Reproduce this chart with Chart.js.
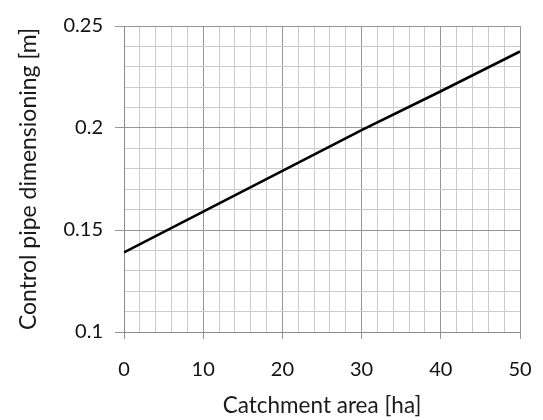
<!DOCTYPE html>
<html lang="en">
<head>
  <meta charset="UTF-8" />
  <title>Control pipe dimensioning</title>
  <script src="https://cdn.jsdelivr.net/npm/chart.js"></script>
  <style>
    body { margin: 0; padding: 0; background: #fff; }
    #wrap { width: 543px; height: 420px; position: relative; }
  </style>
</head>
<body>
  <div id="wrap"><canvas id="chart"></canvas></div>

  <script>
    // values
    const areaHa = [0, 10, 20, 30, 40, 50];
    const pipeDim = [0.139, 0.159, 0.179, 0.199, 0.218, 0.2375];

    const xMin = 0, xMax = 50, xStep = 2, xMajor = 10;
    const yMin = 0.1, yMax = 0.25, yStep = 0.01;

    const minorGrid = '#cbcbcb';
    const majorGrid = '#969696';
    const fontFamily = 'Lato, "Open Sans", sans-serif';

    const isMajorX = v => Math.round(v) % xMajor === 0;
    const isMajorY = v => Math.round(v * 100) % 5 === 0;

    const points = areaHa.map((a, i) => ({ x: a, y: pipeDim[i] }));

    new Chart(document.getElementById('chart'), {
      type: 'line',
      data: {
        datasets: [{
          data: points,
          borderColor: '#000',
          borderWidth: 2.6,
          pointRadius: 0,
          tension: 0
        }]
      },
      options: {
        responsive: true,
        maintainAspectRatio: false,
        animation: false,
        layout: { padding: { top: 26, right: 23, left: 0, bottom: 0 } },
        plugins: { legend: { display: false }, tooltip: { enabled: false } },
        scales: {
          x: {
            type: 'linear',
            min: xMin, max: xMax,
            afterFit: s => { s.height = 88; s.paddingLeft = 0; s.paddingRight = 0; },
            border: { color: '#8a8a8a', width: 1 },
            grid: {
              color: c => isMajorX(c.tick.value) ? majorGrid : minorGrid,
              tickColor: c => isMajorX(c.tick.value) ? majorGrid : 'transparent',
              tickLength: 7
            },
            ticks: {
              stepSize: xStep,
              autoSkip: false,
              maxTicksLimit: 100,
              maxRotation: 0,
              padding: 19,
              color: '#111',
              font: { family: fontFamily, size: 20 },
              callback: v => isMajorX(v) ? String(Math.round(v)) : ''
            },
            title: {
              display: true,
              text: 'Catchment area [ha]',
              color: '#1a1a1a',
              font: { family: fontFamily, size: 22.5 },
              padding: { top: 0, bottom: 1 }
            }
          },
          y: {
            min: yMin, max: yMax,
            afterFit: s => { s.width = 124; s.paddingTop = 0; s.paddingBottom = 0; },
            border: { color: '#8a8a8a', width: 1 },
            grid: {
              color: c => isMajorY(c.tick.value) ? majorGrid : minorGrid,
              tickColor: c => isMajorY(c.tick.value) ? majorGrid : 'transparent',
              tickLength: 9
            },
            ticks: {
              stepSize: yStep,
              autoSkip: false,
              maxTicksLimit: 100,
              padding: 12,
              color: '#111',
              font: { family: fontFamily, size: 20 },
              callback: v => isMajorY(v) ? String(Math.round(v * 100) / 100) : ''
            },
            title: {
              display: true,
              text: 'Control pipe dimensioning [m]',
              color: '#1a1a1a',
              font: { family: fontFamily, size: 23 },
              padding: { top: 15, bottom: 0 }
            }
          }
        }
      }
    });
  </script>
</body>
</html>
